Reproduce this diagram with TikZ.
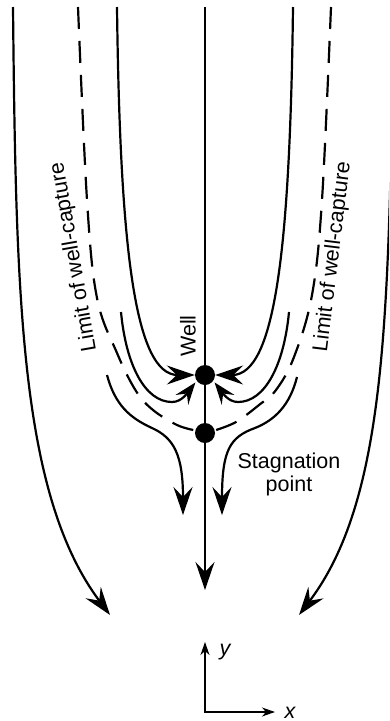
\documentclass[tikz,border=0pt]{standalone}
\usepackage{fontspec}
\setmainfont{Liberation Sans}
\usetikzlibrary{arrows.meta}
\begin{document}
\begin{tikzpicture}[x=1pt,y=-1pt,
  flow/.style={line width=2.2pt},
  bigtip/.style={-{Stealth[length=28pt,width=19pt,inset=10pt]}},
  smalltip/.style={-{Stealth[length=22pt,width=16pt,inset=8pt]}},
  limit/.style={line width=2.2pt,dash pattern=on 22pt off 12pt},
  dot/.style={circle,fill=black,minimum size=20pt,inner sep=0pt},
  lbl/.style={font=\fontsize{21.5}{23}\selectfont,inner sep=0pt},
  ilbl/.style={font=\fontsize{21.5}{23}\selectfont\itshape,inner sep=0pt},
  axis/.style={line width=1.3pt,{Stealth[length=13pt,width=9pt,inset=4pt]}-{Stealth[length=13pt,width=9pt,inset=4pt]}},
]
\useasboundingbox (0,0) rectangle (389,721);
\clip (0,0) rectangle (389,721);

% points
\node[dot] (well) at (205,375) {};
\node[dot] (stag) at (205,433) {};
\coordinate (top) at (205,7);
\coordinate (bot) at (205,590);

% centre streamline
\draw[flow,bigtip] (top) -- (bot);

% outer streamlines
\coordinate (aL0) at (13,7);
\coordinate (aL1) at (110,615);
\coordinate (aR0) at (394,7);
\coordinate (aR1) at (299,615);
\draw[flow,bigtip] (aL0) .. controls (16,300) and (20,495) .. (aL1);
\draw[flow,bigtip] (aR0) .. controls (388,300) and (390,495) .. (aR1);

% limit of well-capture (dashed)
\draw[limit] plot[smooth,tension=0.6] coordinates
  {(78,7) (87,200) (97,298) (117,353) (136,391) (153,410) (177,425) (stag.165)};
\draw[limit] plot[smooth,tension=0.6] coordinates
  {(331,7) (322,200) (312,295) (294,357) (276,390) (259,405) (236,422) (stag.15)};

% captured streamlines from upstream
\coordinate (cL0) at (117,7);
\coordinate (cR0) at (293,7);
\draw[flow,bigtip] (cL0) .. controls (120,250) and (135,375) .. (well.west);
\draw[flow,bigtip] (cR0) .. controls (290,250) and (275,375) .. (well.east);

% captured streamlines from below
\coordinate (dL0) at (121,312);
\coordinate (dR0) at (289,312);
\draw[flow,smalltip,shorten >=2pt] (dL0) .. controls (126,365) and (145,402) .. (172,402)
  .. controls (182,402) and (188,392) .. (well.215);
\draw[flow,smalltip,shorten >=2pt] (dR0) .. controls (284,365) and (265,402) .. (238,402)
  .. controls (228,402) and (222,392) .. (well.325);

% streamlines passing the stagnation point
\coordinate (eL0) at (107,375);
\coordinate (eL1) at (183,515);
\coordinate (eR0) at (297,377);
\coordinate (eR1) at (222,515);
\draw[flow,bigtip] (eL0) .. controls (115,405) and (130,418) .. (152,428)
  .. controls (174,438) and (183,455) .. (eL1);
\draw[flow,bigtip] (eR0) .. controls (290,405) and (275,420) .. (255,428)
  .. controls (230,437) and (222,450) .. (eR1);

% labels
\node[lbl,rotate=100] (limL) at (74,257) {Limit of well-capture};
\node[lbl,rotate=83] (limR) at (333,257) {Limit of well-capture};
\node[lbl,rotate=90] (wlbl) at (188,336) {Well};
\node[lbl,align=center,anchor=north] (slbl) at (289,453) {Stagnation\\point};

% axes
\coordinate (O) at (205,712);
\coordinate (Y) at (205,642);
\coordinate (X) at (275,712);
\draw[axis] (Y) -- (O) -- (X);
\node[ilbl,anchor=base] (ylbl) at (225,655) {y};
\node[ilbl,anchor=base] (xlbl) at (290,718) {x};
\end{tikzpicture}
\end{document}
